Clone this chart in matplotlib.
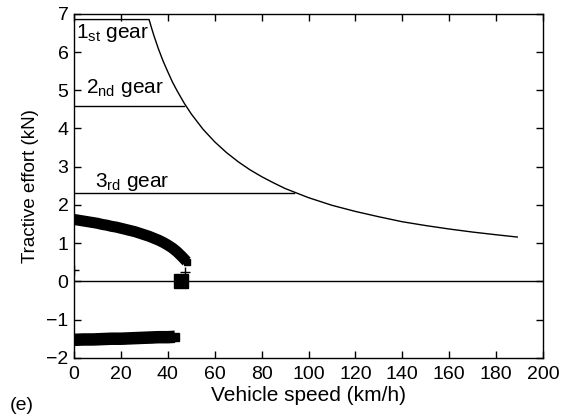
import matplotlib
matplotlib.use("Agg")
import matplotlib.pyplot as plt

plt.rcParams['font.family'] = ['Liberation Sans', 'DejaVu Sans']
plt.rcParams['mathtext.fontset'] = 'custom'
plt.rcParams['mathtext.rm'] = 'Liberation Sans'

# maximum tractive effort envelope (constant torque then constant power)
env_speed = [0, 32, 33, 34, 35, 36, 38, 40, 42, 44, 47, 50, 55, 60, 65, 70, 75, 80, 85, 90, 95,
             100, 110, 120, 130, 140, 150, 160, 170, 180, 189]
env_force = [6.85, 6.85, 6.64, 6.44, 6.26, 6.08, 5.76, 5.48, 5.21, 4.98, 4.66, 4.38, 3.98, 3.65,
             3.37, 3.13, 2.92, 2.74, 2.58, 2.43, 2.31, 2.19, 1.99, 1.83, 1.69, 1.56, 1.46, 1.37,
             1.29, 1.22, 1.16]

# gear limits
gear_force = [4.6, 2.3]
gear_speed_end = [47, 94]

# measured operating points (traction)
trac_speed = [0, 2, 4, 6, 8, 10, 12, 14, 16, 18, 20, 22, 24, 26, 28, 30, 32, 34, 36, 38, 40, 42, 44, 46, 48]
trac_force = [1.62, 1.60, 1.58, 1.56, 1.54, 1.52, 1.49, 1.47, 1.44, 1.42, 1.39, 1.36, 1.33, 1.30,
              1.26, 1.22, 1.18, 1.13, 1.08, 1.02, 0.95, 0.87, 0.77, 0.65, 0.52]

# measured operating points (braking)
brake_speed = [0, 4, 8, 12, 16, 20, 24, 28, 32, 36, 40, 43]
brake_force = [-1.53, -1.52, -1.52, -1.51, -1.50, -1.50, -1.49, -1.48, -1.47, -1.46, -1.46, -1.45]

# idle points
idle_speed = [45.5]
idle_force = [0.02]
plus_speed = [0, 47.5]
plus_force = [0.3, 0.25]

fig = plt.figure(figsize=(5.61, 4.19), dpi=100)
ax = fig.add_axes([0.132, 0.146, 0.836, 0.821])

ax.plot(env_speed, env_force, color='black', lw=1.0)
for f, s in zip(gear_force, gear_speed_end):
    ax.plot([0, s], [f, f], color='black', lw=1.0)
ax.axhline(0, color='black', lw=1.0)

ax.plot(trac_speed, trac_force, color='black', lw=8, solid_capstyle='butt')
ax.plot(trac_speed, trac_force, ls='none', marker='s', ms=5, color='black')
ax.plot(brake_speed, brake_force, color='black', lw=9, solid_capstyle='butt')
ax.plot(brake_speed, brake_force, ls='none', marker='s', ms=6, color='black')
ax.plot(idle_speed, idle_force, ls='none', marker='s', ms=10, color='black')
ax.plot(plus_speed, plus_force, ls='none', marker='+', ms=7, mew=1.0, color='black')

ax.text(0.8, 6.5, r'$\mathregular{1_{st}}$ gear', fontsize=15, va='center')
ax.text(5.0, 5.05, r'$\mathregular{2_{nd}}$ gear', fontsize=15, va='center')
ax.text(9.0, 2.6, r'$\mathregular{3_{rd}}$ gear', fontsize=15, va='center')

ax.set_xlim(0, 200)
ax.set_ylim(-2, 7)
ax.set_xticks(range(0, 201, 20))
ax.set_yticks(range(-2, 8))
ax.set_yticklabels(['\u22122', '\u22121', '0', '1', '2', '3', '4', '5', '6', '7'])
ax.tick_params(direction='in', length=5, width=1, top=True, right=True, labelsize=14)
ax.tick_params(axis='x', pad=6)
ax.tick_params(axis='y', pad=4)
for sp in ax.spines.values():
    sp.set_linewidth(1.0)

ax.set_xlabel('Vehicle speed (km/h)', fontsize=15, labelpad=2)
ax.set_ylabel('Tractive effort (kN)', fontsize=13.5, labelpad=5)
fig.text(0.018, 0.022, '(e)', fontsize=14)

fig.savefig('out.png', dpi=100)
